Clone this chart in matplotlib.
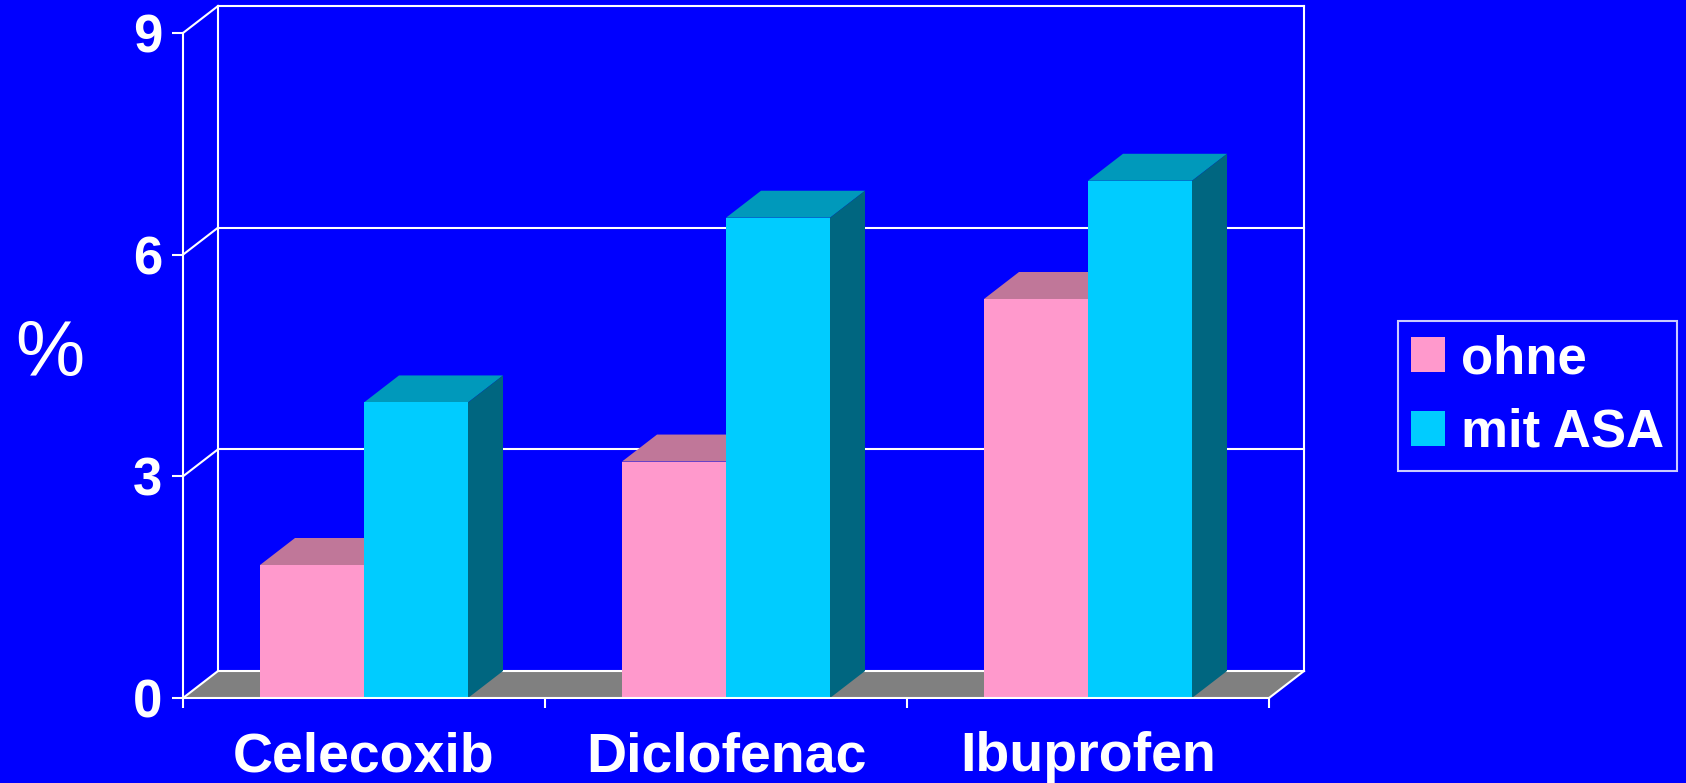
import matplotlib
matplotlib.use("Agg")
import matplotlib.pyplot as plt
from matplotlib.patches import Polygon, Patch

categories = ['Celecoxib', 'Diclofenac', 'Ibuprofen']
series_names = ['ohne', 'mit ASA']
ohne = [1.8, 3.2, 5.4]
mit_asa = [4.0, 6.5, 7.0]
yticks = [0, 3, 6, 9]

BG = '#0000FF'
FRONT = ['#FF99CC', '#00CCFF']
TOP = ['#C07799', '#0099BB']
SIDE = ['#99607C', '#006680']
FLOOR = '#808080'

plt.rcParams['font.family'] = ['Liberation Sans', 'DejaVu Sans']

W, H, DPI = 16.86, 7.83, 100
fig = plt.figure(figsize=(W, H), dpi=DPI, facecolor=BG)
left, right = 183 / 1686, 1269 / 1686
bottom, top = 1 - 698 / 783, 1 - 33 / 783
ax = fig.add_axes([left, bottom, right - left, top - bottom])
ax.set_facecolor('none')
n = len(categories)
ax.set_xlim(0, n)
ax.set_ylim(0, 9)

# depth of the fake 3d box: pixels -> data units
dx = 35 / ((right - left) * W * DPI / n)
dy = 27 / ((top - bottom) * H * DPI / 9)
lw = 1.5

# floor
ax.add_patch(Polygon([(0, 0), (n, 0), (n + dx, dy), (dx, dy)],
                     closed=True, fc=FLOOR, ec='none', zorder=1, clip_on=False))

# back wall grid + left wall diagonals
for y in yticks:
    ax.plot([dx, n + dx], [y + dy, y + dy], color='white', lw=lw, zorder=2, clip_on=False)
    ax.plot([0, dx], [y, y + dy], color='white', lw=lw, zorder=2, clip_on=False)
ax.plot([dx, dx], [dy, 9 + dy], color='white', lw=lw, zorder=2, clip_on=False)
ax.plot([n + dx, n + dx], [dy, 9 + dy], color='white', lw=lw, zorder=2, clip_on=False)
ax.plot([n, n + dx], [0, dy], color='white', lw=lw, zorder=2, clip_on=False)

# bars
bw = 104 / 362
for j, vals in enumerate([ohne, mit_asa]):
    xs = [i + 0.5 - bw + j * bw for i in range(n)]
    ax.bar(xs, vals, width=bw, align='edge', color=FRONT[j], zorder=4 + j, lw=0)
    for x0, v in zip(xs, vals):
        ax.add_patch(Polygon([(x0, v), (x0 + bw, v), (x0 + bw + dx, v + dy), (x0 + dx, v + dy)],
                             closed=True, fc=TOP[j], ec='none', zorder=3 + j, clip_on=False))
        ax.add_patch(Polygon([(x0 + bw, 0), (x0 + bw + dx, dy), (x0 + bw + dx, v + dy), (x0 + bw, v)],
                             closed=True, fc=SIDE[j], ec='none', zorder=3 + j, clip_on=False))

for s in ['top', 'right']:
    ax.spines[s].set_visible(False)
for s in ['left', 'bottom']:
    ax.spines[s].set_color('white')
    ax.spines[s].set_linewidth(lw)
    ax.spines[s].set_zorder(10)

ax.set_yticks(yticks)
ax.set_yticklabels([str(t) for t in yticks])
ax.tick_params(axis='y', colors='white', length=8, width=lw, pad=7, labelsize=38)
for lab in ax.get_yticklabels():
    lab.set_fontweight('bold')

ax.set_xticks(range(n + 1))
ax.set_xticklabels([])
ax.set_xticks([i + 0.5 for i in range(n)], minor=True)
ax.set_xticklabels(categories, minor=True, fontsize=40, fontweight='bold', color='white')
ax.tick_params(axis='x', which='major', colors='white', length=7, width=lw, direction='out')
ax.tick_params(axis='x', which='minor', length=0, pad=24)

fig.text(50 / 1686, 1 - 355 / 783, '%', fontsize=56, color='white', ha='center', va='center')

handles = [Patch(fc=c, ec='none') for c in FRONT]
leg = fig.legend(handles, series_names, loc='center left',
                 bbox_to_anchor=(1398 / 1686, 1 - 396 / 783),
                 prop={'size': 38, 'weight': 'bold'}, labelcolor='white',
                 handlelength=0.65, handleheight=0.65, handletextpad=0.3,
                 borderpad=0.24, labelspacing=0.45, borderaxespad=0,
                 fancybox=False, frameon=True, facecolor=BG, edgecolor='white')
leg.get_frame().set_linewidth(lw)

fig.savefig('out.png', dpi=DPI, facecolor=BG)
